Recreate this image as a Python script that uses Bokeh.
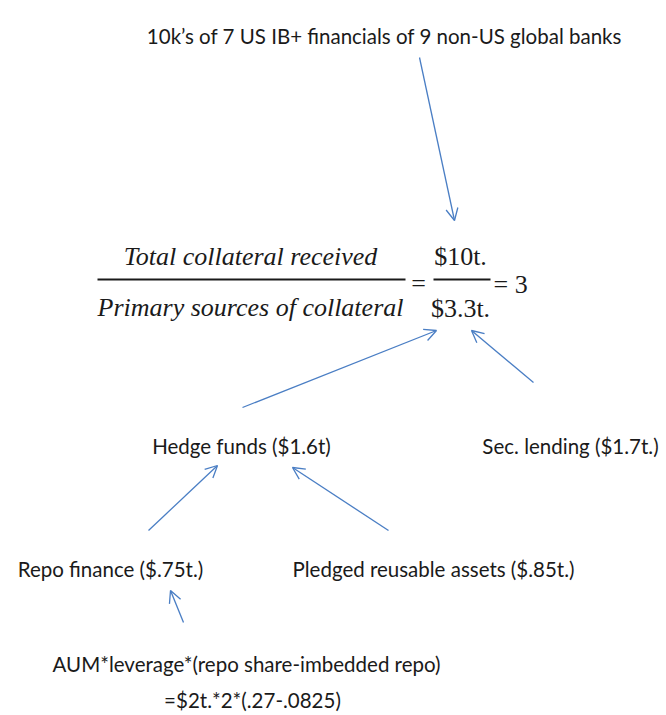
from bokeh.plotting import figure
from bokeh.models import Range1d, Arrow, OpenHead, ColumnDataSource
from bokeh.core.properties import value
from bokeh.embed import file_html
from bokeh.resources import INLINE

# --- diagram content ---
source_label = "10k\u2019s of 7 US IB+ financials of 9 non-US global banks"
node_labels = ["Hedge funds ($1.6t)", "Sec. lending ($1.7t.)",
               "Repo finance ($.75t.)", "Pledged reusable assets ($.85t.)",
               "AUM*leverage*(repo share-imbedded repo)", "=$2t.*2*(.27-.0825)"]
node_x = [241, 570, 110, 433, 246, 252]
node_y = [445, 445, 568, 568, 663, 699]

frac_num = "Total collateral received"
frac_den = "Primary sources of collateral"
val_num = "$10t."
val_den = "$3.3t."
ratio = "3"

# arrows: (x_start, y_start, x_end, y_end)
arrow_x0 = [419, 242, 533, 148, 388, 183]
arrow_y0 = [57, 407, 382, 530, 530, 622]
arrow_x1 = [454, 436, 471, 217, 292, 170]
arrow_y1 = [220, 330, 330, 465, 467, 590]

W, H = 666, 715
p = figure(width=W, height=H, x_range=Range1d(0, W), y_range=Range1d(H, 0),
           output_backend="svg", toolbar_location=None, min_border=0)
p.axis.visible = False
p.grid.visible = False
p.outline_line_color = None
p.background_fill_color = "white"
p.border_fill_color = "white"

SANS = value("Lato")
SERIF = value("Liberation Serif")
blue = "#4A7EC4"
ink = "#1a1a1a"
fs = "20.5px"

# source title
p.text(x=[384], y=[35], text=[source_label], text_font=SANS, text_font_size=fs,
       text_align="center", text_baseline="alphabetic", text_color=ink)

# nodes
src = ColumnDataSource(dict(x=node_x, y=node_y, t=node_labels))
p.text(x="x", y="y", text="t", source=src, text_font=SANS, text_font_size=fs,
       text_align="center", text_baseline="alphabetic", text_color=ink)

# fraction
for yy, tt in [(256, frac_num), (307, frac_den)]:
    p.text(x=[250], y=[yy], text=[tt], text_font=SERIF, text_font_style="italic",
           text_font_size="26px", text_align="center", text_baseline="alphabetic", text_color=ink)
p.segment(x0=[97, 433], y0=[279, 279], x1=[405, 490], y1=[279, 279], line_color=ink, line_width=2)
p.text(x=[418], y=[283], text=["="], text_font=SERIF, text_font_size="26px",
       text_align="center", text_baseline="alphabetic", text_color=ink)
p.text(x=[460, 460], y=[256, 308], text=[val_num, val_den], text_font=SERIF, text_font_size="26px",
       text_align="center", text_baseline="alphabetic", text_color=ink)
p.text(x=[493], y=[284], text=["= " + ratio], text_font=SERIF, text_font_size="26px",
       text_align="left", text_baseline="alphabetic", text_color=ink)

# arrows
for x0, y0, x1, y1 in zip(arrow_x0, arrow_y0, arrow_x1, arrow_y1):
    p.add_layout(Arrow(end=OpenHead(size=12, line_color=blue, line_width=1.3),
                       x_start=x0, y_start=y0, x_end=x1, y_end=y1,
                       line_color=blue, line_width=1.3))

open("out.html", "w").write(file_html(p, INLINE))
